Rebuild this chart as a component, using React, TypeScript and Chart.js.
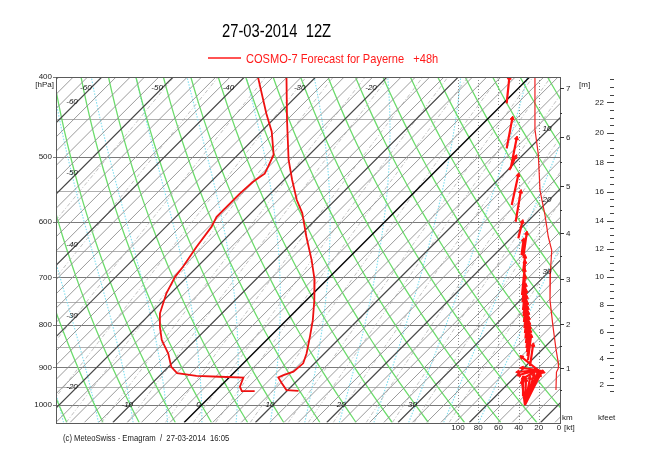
import React, { useEffect, useRef } from "react";
import { Chart, registerables } from "chart.js";

Chart.register(...registerables);

// ---------------- texts ----------------
const titleText = "27-03-2014  12Z";
const subtitleText = "COSMO-7 Forecast for Payerne   +48h";
const footerText = "(c) MeteoSwiss - Emagram  /  27-03-2014  16:05";

// ---------------- axes / grid definitions ----------------
const pressureTicks = [400, 500, 600, 700, 800, 900, 1000];
const pressureHalfTicks = [450, 550, 650, 750, 850, 950, 1050];
const windGridKt = [20, 40, 60, 80, 100];
const windTickKt = [100, 80, 60, 40, 20, 0];
const kmTicks = [1, 2, 3, 4, 5, 6, 7];
const kmMinorTicks = [0.5, 1.5, 2.5, 3.5, 4.5, 5.5, 6.5];
const kfeetTicks = [2, 4, 6, 8, 10, 12, 14, 16, 18, 20, 22];
const kfeetMinorTicks = [1.5, 2.5, 3, 3.5, 4.5, 5, 5.5, 6.5, 7, 7.5, 8.5, 9, 9.5, 10.5, 11, 11.5, 12.5, 13, 13.5, 14.5, 15, 15.5, 16.5, 17, 17.5, 18.5, 19, 19.5, 20.5, 21, 21.5, 22.5, 23, 23.5];

const isothermLabelsTop = [-60, -50, -40, -30, -20];
const isothermLabelsLeft = [-60, -50, -40, -30, -20];
const isothermLabelsBottom = [-10, 0, 10, 20, 30];
const isothermLabelsRight = [10, 20, 30];

const isothermsC: number[] = [];
for (let t = -70; t <= 56; t += 2) isothermsC.push(t);
const dryAdiabatsC = [-20, -15, -10, -5, 0, 5, 10, 15, 20, 25, 30, 35, 40, 45, 50, 55, 60, 65, 70, 75, 80, 85, 90];
const moistAdiabatsC = [-40, -35, -30, -25, -20, -15, -10, -5, 0, 5, 10, 15, 20, 25, 30, 35, 40];
const mixingRatiosGkg = [0.1, 0.2, 0.4, 0.7, 1, 1.5, 2, 3, 4, 5, 7, 10, 12, 15, 20, 25, 30, 40];

// ---------------- sounding data ----------------
const tempPressure = [400, 451, 504, 533, 564, 585, 625, 667, 705, 746, 789, 826, 866, 890, 911, 920, 926, 941, 959, 961];
const tempC = [-34.1, -28.0, -22.2, -18.9, -15.4, -12.8, -8.9, -4.9, -1.7, 1.1, 3.7, 5.6, 7.5, 8.4, 8.2, 7.3, 6.9, 8.2, 9.8, 11.6];
const dewPressure = [400, 443, 466, 497, 514, 524, 536, 554, 572, 591, 608, 643, 680, 699, 732, 774, 804, 834, 866, 899, 915, 922, 924, 926, 950, 962, 962];
const dewC = [-38.1, -31.8, -28.5, -25.0, -24.1, -23.6, -24.1, -24.3, -24.3, -24.3, -23.6, -22.9, -22.0, -21.7, -20.6, -18.7, -16.8, -14.7, -11.9, -9.6, -7.9, -4.8, -1.4, 2.0, 2.8, 3.7, 5.5];

// wind speed profile (kt)
const windSpeedPressure = [400, 463, 496, 549, 588, 625, 649, 686, 746, 804, 855, 889, 902, 912, 959];
const windSpeedKt = [23.8, 23.8, 20.5, 18.8, 13.9, 10.6, 7.2, 8.4, 8.9, 5.9, 3.0, 0.7, 0.5, 2.5, 3.0];

// wind arrows: tail (pressure, kt) -> tip (pressure, kt)
const windTailP = [430.5, 488.2, 516.2, 518.7, 572.0, 599.3, 627.8, 660.9, 685.9, 657.7, 715.2, 735.5, 750.0, 766.9, 779.9, 793.1, 806.5, 817.8, 829.3, 841.0, 852.8, 862.4, 872.1, 881.9, 896.8,
  906.8, 906.8, 906.8, 906.8, 906.8, 906.8, 1000, 1000, 1000, 1000, 1000, 986.1, 1000, 972.5, 972.5];
const windTailKt = [51.8, 51.8, 47.8, 49.2, 46.8, 42.9, 40.3, 35.3, 35.3, 37.1, 34.7, 36.6, 36.1, 35.6, 35.1, 34.7, 34.2, 33.7, 33.2, 32.7, 32.2, 31.7, 31.2, 30.7, 28.7,
  20.8, 20.8, 20.8, 20.8, 20.8, 20.8, 33.7, 33.7, 33.7, 33.7, 33.7, 31.7, 33.7, 32.7, 34.7];
const windTipP = [401, 449.0, 474.7, 499.8, 526.0, 551.1, 599.3, 619.0, 660.9, 630.7, 670.7, 685.9, 699.4, 715.2, 727.3, 739.6, 752.1, 762.7, 773.4, 784.3, 795.3, 804.2, 813.2, 824.7, 845.7,
  874.5, 911.9, 919.6, 901.8, 911.9, 927.4, 911.9, 919.6, 927.4, 932.6, 937.8, 927.4, 919.6, 911.9, 927.4];
const windTipKt = [49.2, 46.2, 41.9, 42.9, 40.3, 37.9, 36.3, 32.0, 33.7, 35.1, 33.7, 34.2, 33.7, 33.2, 32.7, 32.2, 31.7, 31.2, 30.7, 30.2, 29.7, 29.2, 28.7, 27.7, 25.7,
  36.9, 40.6, 39.6, 36.6, 15.8, 34.7, 20.8, 24.8, 28.7, 32.7, 36.6, 22.8, 18.8, 18.8, 35.6];

// ---------------- diagram geometry (skew) ----------------
const SKEW = 50.21;
const skewX = (t: number, p: number) => t + SKEW * Math.log(1000 / p);
const P_TOP = 400;
const P_BOT = 1050;
const samplePressures: number[] = [];
for (let i = 0; i <= 26; i++) samplePressures.push(P_BOT * Math.pow(P_TOP / P_BOT, i / 26));

const pFromHeight = (z: number) => 1016.7 * Math.pow(1 - 2.25577e-5 * z, 5.25588);

type Pt = { x: number; y: number | null };
const BREAK: Pt = { x: 0, y: null };

function isothermData(list: number[]): Pt[] {
  const out: Pt[] = [];
  list.forEach((t) => {
    out.push({ x: skewX(t, P_BOT), y: P_BOT }, { x: skewX(t, P_TOP), y: P_TOP }, BREAK);
  });
  return out;
}
function dryData(list: number[]): Pt[] {
  const out: Pt[] = [];
  list.forEach((th) => {
    samplePressures.forEach((p) => {
      const t = (th + 273.15) * Math.pow(p / 1000, 0.2857) - 273.15;
      out.push({ x: skewX(t, p), y: p });
    });
    out.push(BREAK);
  });
  return out;
}
function mixingData(list: number[]): Pt[] {
  const out: Pt[] = [];
  list.forEach((w) => {
    samplePressures.forEach((p) => {
      const e = (w * p) / (622 + w);
      const a = Math.log(e / 6.112);
      const td = (243.5 * a) / (17.67 - a);
      out.push({ x: skewX(td, p), y: p });
    });
    out.push(BREAK);
  });
  return out;
}
function moistRate(T: number, p: number) {
  const eps = 0.622, Rd = 287.04, Lv = 2.501e6, cp = 1005.7;
  const es = 6.112 * Math.exp((17.67 * (T - 273.15)) / (T - 29.65));
  const rs = (eps * es) / (p - es);
  return (Rd * T + Lv * rs) / (p * (cp + (Lv * Lv * rs * eps) / (Rd * T * T)));
}
function moistData(list: number[]): Pt[] {
  const out: Pt[] = [];
  list.forEach((tw) => {
    const down: Pt[] = [];
    let T = tw + 273.15, p = 1000;
    while (p < P_BOT) {
      const dp = 5;
      const k1 = moistRate(T, p);
      const k2 = moistRate(T + k1 * dp, p + dp);
      T += ((k1 + k2) / 2) * dp; p += dp;
      down.push({ x: skewX(T - 273.15, p), y: p });
    }
    down.reverse().forEach((d) => out.push(d));
    T = tw + 273.15; p = 1000;
    out.push({ x: skewX(tw, 1000), y: 1000 });
    while (p > P_TOP) {
      const dp = -5;
      const k1 = moistRate(T, p);
      const k2 = moistRate(T + k1 * dp, p + dp);
      T += ((k1 + k2) / 2) * dp; p += dp;
      out.push({ x: skewX(T - 273.15, p), y: p });
    }
    out.push(BREAK);
  });
  return out;
}

const NARROW = "'Liberation Sans Narrow', 'Arial Narrow'";
const SANS = "'Liberation Sans', Arial, Helvetica, sans-serif";
let narrowOK: boolean | null = null;
function checkNarrow(ctx: CanvasRenderingContext2D) {
  if (narrowOK !== null) return narrowOK;
  ctx.save();
  ctx.font = `20px ${NARROW}, monospace`;
  const a = ctx.measureText("abcdefghijk").width;
  ctx.font = "20px monospace";
  const b = ctx.measureText("abcdefghijk").width;
  ctx.restore();
  narrowOK = Math.abs(a - b) > 0.5;
  return narrowOK;
}
function narrowText(ctx: CanvasRenderingContext2D, text: string, x: number, y: number, size: number, color: string, align: CanvasTextAlign = "left") {
  ctx.save();
  ctx.fillStyle = color;
  ctx.textAlign = align;
  ctx.textBaseline = "alphabetic";
  if (checkNarrow(ctx)) {
    ctx.font = `${size}px ${NARROW}, ${SANS}`;
    ctx.fillText(text, x, y);
  } else {
    ctx.font = `${size}px ${SANS}`;
    ctx.translate(x, y);
    ctx.scale(0.82, 1);
    ctx.fillText(text, 0, 0);
  }
  ctx.restore();
}

const emagramPlugin = {
  id: "emagram",
  beforeDatasetsDraw(chart: any) {
    const { ctx, chartArea: a, scales } = chart;
    const y = scales.y, xk = scales.xk;
    ctx.save();
    ctx.lineWidth = 1;
    pressureHalfTicks.forEach((p) => {
      const py = Math.round(y.getPixelForValue(p)) + 0.5;
      ctx.strokeStyle = "#b0b0b0";
      ctx.beginPath(); ctx.moveTo(a.left, py); ctx.lineTo(a.right, py); ctx.stroke();
    });
    pressureTicks.forEach((p) => {
      const py = Math.round(y.getPixelForValue(p)) + 0.5;
      ctx.strokeStyle = "#7a7a7a";
      ctx.beginPath(); ctx.moveTo(a.left - 3, py); ctx.lineTo(a.right, py); ctx.stroke();
    });
    ctx.setLineDash([1, 2]);
    ctx.strokeStyle = "#8a8a8a";
    windGridKt.forEach((k) => {
      const px = Math.round(xk.getPixelForValue(k)) + 0.5;
      ctx.beginPath(); ctx.moveTo(px, a.top); ctx.lineTo(px, a.bottom); ctx.stroke();
    });
    ctx.restore();
  },
  afterDatasetsDraw(chart: any) {
    const { ctx, chartArea: a } = chart;
    ctx.save();
    ctx.strokeStyle = "#5a5a5a";
    ctx.lineWidth = 1;
    ctx.strokeRect(Math.round(a.left) + 0.5, Math.round(a.top) + 0.5, Math.round(a.right - a.left), Math.round(a.bottom - a.top));
    ctx.restore();
  },
  afterDraw(chart: any) {
    const { ctx, chartArea: a, scales } = chart;
    const x = scales.x, y = scales.y, xk = scales.xk;
    // title
    narrowText(ctx, titleText, 222, 37, 18, "#000");
    ctx.save();
    ctx.strokeStyle = "#ff1a1a"; ctx.lineWidth = 1.5;
    ctx.beginPath(); ctx.moveTo(208, 58); ctx.lineTo(241, 58); ctx.stroke();
    ctx.restore();
    narrowText(ctx, subtitleText, 246, 63, 13.5, "#ff1a1a");
    narrowText(ctx, footerText, 63, 441, 9.4, "#222");

    ctx.save();
    ctx.fillStyle = "#222";
    ctx.font = `8px ${SANS}`;
    ctx.textBaseline = "middle";
    // pressure labels
    ctx.textAlign = "right";
    pressureTicks.forEach((p) => ctx.fillText(String(p), a.left - 4, y.getPixelForValue(p)));
    ctx.fillText("[hPa]", a.left - 2, y.getPixelForValue(400) + 8);
    // wind speed labels
    ctx.textAlign = "center";
    windTickKt.forEach((k) => ctx.fillText(String(k), xk.getPixelForValue(k), a.bottom + 5));
    ctx.textAlign = "left";
    ctx.fillText("[kt]", xk.getPixelForValue(0) + 5, a.bottom + 5);
    // km axis
    ctx.strokeStyle = "#333"; ctx.lineWidth = 1;
    kmTicks.forEach((k) => {
      const py = Math.round(y.getPixelForValue(pFromHeight(k * 1000))) + 0.5;
      ctx.beginPath(); ctx.moveTo(a.right, py); ctx.lineTo(a.right + 4, py); ctx.stroke();
      ctx.fillText(String(k), a.right + 6, py);
    });
    kmMinorTicks.forEach((k) => {
      const py = Math.round(y.getPixelForValue(pFromHeight(k * 1000))) + 0.5;
      ctx.beginPath(); ctx.moveTo(a.right, py); ctx.lineTo(a.right + 2, py); ctx.stroke();
    });
    ctx.fillText("[m]", a.right + 19, a.top + 8);
    ctx.fillText("km", a.right + 2, a.bottom - 5);
    // kfeet axis
    ctx.strokeStyle = "#444";
    kfeetTicks.forEach((k) => {
      const py = Math.round(y.getPixelForValue(pFromHeight(k * 304.8))) + 0.5;
      ctx.beginPath(); ctx.moveTo(607, py); ctx.lineTo(614, py); ctx.stroke();
    });
    kfeetMinorTicks.forEach((k) => {
      const py = Math.round(y.getPixelForValue(pFromHeight(k * 304.8))) + 0.5;
      ctx.beginPath(); ctx.moveTo(610, py); ctx.lineTo(614, py); ctx.stroke();
    });
    ctx.textAlign = "right";
    kfeetTicks.forEach((k) => ctx.fillText(String(k), 604, y.getPixelForValue(pFromHeight(k * 304.8))));
    ctx.textAlign = "left";
    ctx.fillText("kfeet", 598, a.bottom - 5);

    // isotherm labels
    ctx.fillStyle = "#111";
    ctx.font = `italic 8px ${SANS}`;
    ctx.textAlign = "center";
    const atRow = (t: number, py: number) => {
      const p = y.getValueForPixel(py);
      return x.getPixelForValue(skewX(t, p)) - 5;
    };
    const atCol = (t: number, px: number) => {
      const X = x.getValueForPixel(px);
      const p = 1000 / Math.exp((X - t) / SKEW);
      return y.getPixelForValue(p) - 5;
    };
    const topRow = a.top + 11;
    isothermLabelsTop.forEach((t) => ctx.fillText(String(t), atRow(t, topRow), topRow));
    isothermLabelsLeft.forEach((t) => ctx.fillText(String(t), a.left + 16, atCol(t, a.left + 16)));
    const bottomRow = y.getPixelForValue(1000);
    isothermLabelsBottom.forEach((t) => ctx.fillText(String(t), atRow(t, bottomRow) + 2, bottomRow));
    isothermLabelsRight.forEach((t) => ctx.fillText(String(t), a.right - 13, atCol(t, a.right - 13) + 3));
    ctx.restore();
  },
};

const profile = (ps: number[], ts: number[]) => ps.map((p, i) => ({ x: skewX(ts[i], p), y: p }));
const windSegments = (): Pt[] => {
  const out: Pt[] = [];
  windTailP.forEach((p, i) => {
    out.push({ x: windTailKt[i], y: p }, { x: windTipKt[i], y: windTipP[i] }, BREAK);
  });
  return out;
};

const lineDs = (label: string, data: Pt[], color: string, width: number, order: number, extra: any = {}) => ({
  type: "line",
  label,
  data,
  borderColor: color,
  borderWidth: width,
  pointRadius: 0,
  fill: false,
  tension: 0,
  spanGaps: false,
  order,
  xAxisID: "x",
  yAxisID: "y",
  ...extra,
});

export default function App() {
  const ref = useRef<HTMLCanvasElement>(null);
  useEffect(() => {
    document.body.style.margin = "0";
    document.body.style.background = "#fff";
    const canvas = ref.current!;
    const datasets: any[] = [
      lineDs("Temperature", profile(tempPressure, tempC), "#ee1111", 1.8, 0),
      lineDs("Dew point", profile(dewPressure, dewC), "#ee1111", 1.8, 0),
      lineDs("Wind speed", windSpeedPressure.map((p, i) => ({ x: windSpeedKt[i], y: p })), "#ee2222", 1.2, 0, { xAxisID: "xk" }),
      lineDs("Wind arrows", windSegments(), "#ff1010", 2.2, 0, { xAxisID: "xk" }),
      {
        type: "line",
        label: "Wind heads",
        data: windTipP.map((p, i) => ({ x: windTipKt[i], y: p })),
        showLine: false,
        xAxisID: "xk",
        yAxisID: "y",
        order: 0,
        pointStyle: "triangle",
        pointRadius: 2.3,
        pointBackgroundColor: "#ff1010",
        pointBorderColor: "#ff1010",
        pointBorderWidth: 1,
        pointRotation: (c: any) => {
          const i = c.dataIndex;
          const xs = c.chart.scales.xk, ys = c.chart.scales.y;
          if (!xs || !ys || i === undefined) return 0;
          const dx = xs.getPixelForValue(windTipKt[i]) - xs.getPixelForValue(windTailKt[i]);
          const dy = ys.getPixelForValue(windTipP[i]) - ys.getPixelForValue(windTailP[i]);
          return (Math.atan2(dx, -dy) * 180) / Math.PI;
        },
      },
      lineDs("0 isotherm", isothermData([0]), "#000000", 1.4, 1),
      lineDs("10 isotherms", isothermData(isothermsC.filter((t) => t % 10 === 0 && t !== 0)), "#4a4a4a", 1.2, 2),
      lineDs("isotherms", isothermData(isothermsC.filter((t) => t % 10 !== 0)), "#8e8e8e", 0.9, 3),
      lineDs("mixing ratio", mixingData(mixingRatiosGkg), "#b0b0b0", 0.8, 4, { borderDash: [4, 2, 1, 2] }),
      lineDs("dry adiabats", dryData(dryAdiabatsC), "#6cdc6c", 1.3, 5),
      lineDs("moist adiabats", moistData(moistAdiabatsC), "#7fdff0", 1.1, 6, { borderDash: [1.5, 1.5] }),
    ];
    const chart = new Chart(canvas, {
      type: "line",
      data: { datasets },
      options: {
        responsive: false,
        animation: false,
        devicePixelRatio: 1,
        events: [],
        layout: { padding: { left: 56, right: 90, top: 77, bottom: 37.5 } },
        plugins: { legend: { display: false }, tooltip: { enabled: false }, title: { display: false } },
        scales: {
          x: { type: "linear", min: -20.42, max: 50.27, display: false },
          xk: { type: "linear", axis: "x", min: -1, max: 498, reverse: true, display: false },
          y: { type: "logarithmic", min: P_TOP, max: P_BOT, reverse: true, display: false },
        },
      } as any,
      plugins: [emagramPlugin],
    } as any);
    return () => chart.destroy();
  }, []);
  return (
    <div style={{ width: 650, height: 460, background: "#fff" }}>
      <canvas ref={ref} width={650} height={460} style={{ display: "block" }} />
    </div>
  );
}
